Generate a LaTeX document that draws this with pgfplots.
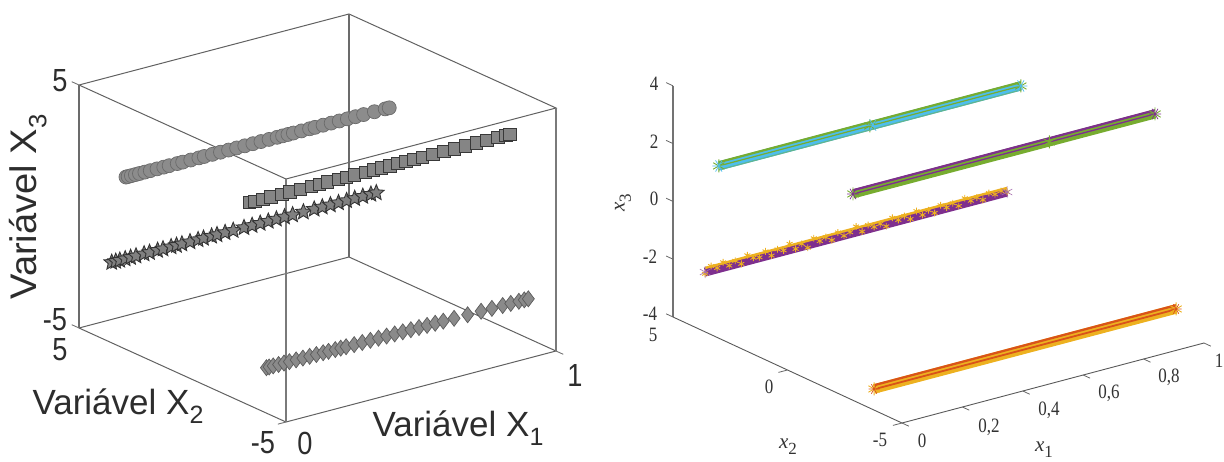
\documentclass[border=0pt]{standalone}
\usepackage{pgfplots}
\pgfplotsset{compat=1.18}
\usepackage{fontspec}
\setmainfont{Liberation Sans}
\newfontfamily\tms{Liberation Serif}
\usetikzlibrary{plotmarks}
\definecolor{cy}{RGB}{77,190,238}
\definecolor{gr}{RGB}{119,172,48}
\definecolor{pu}{RGB}{126,47,142}
\definecolor{ye}{RGB}{237,177,32}
\definecolor{orr}{RGB}{217,83,25}
\definecolor{txtL}{RGB}{45,45,45}
\definecolor{txtR}{RGB}{50,50,50}
\pgfdeclareplotmark{fstar}{%
 \pgfpathmoveto{\pgfpointpolar{90}{\pgfplotmarksize}}%
 \pgfpathlineto{\pgfpointpolar{126}{0.45\pgfplotmarksize}}%
 \pgfpathlineto{\pgfpointpolar{162}{\pgfplotmarksize}}%
 \pgfpathlineto{\pgfpointpolar{198}{0.45\pgfplotmarksize}}%
 \pgfpathlineto{\pgfpointpolar{234}{\pgfplotmarksize}}%
 \pgfpathlineto{\pgfpointpolar{270}{0.45\pgfplotmarksize}}%
 \pgfpathlineto{\pgfpointpolar{306}{\pgfplotmarksize}}%
 \pgfpathlineto{\pgfpointpolar{342}{0.45\pgfplotmarksize}}%
 \pgfpathlineto{\pgfpointpolar{18}{\pgfplotmarksize}}%
 \pgfpathlineto{\pgfpointpolar{54}{0.45\pgfplotmarksize}}%
 \pgfpathclose\pgfusepathqfillstroke}
\newcommand\lab[4][]{\node[inner sep=0pt,#1] at ({#2pt},{(461-#3)*1pt}) {#4};}
\newcommand\tick[1]{\fontsize{32}{32}\selectfont\scalebox{0.85}[1]{#1}}
\newcommand\sub[1]{\raisebox{-0.27em}{\fontsize{25}{25}\selectfont #1}}
\newcommand\lft[1]{\fontsize{35}{35}\selectfont\scalebox{1.0}[1]{#1}}
\newcommand\rgt[1]{\tms\fontsize{17}{17}\selectfont\scalebox{1}[1.2]{#1}}
\newcommand\vlab[1]{\tms\fontsize{21}{21}\selectfont\textit{x}\raisebox{-0.3em}{\fontsize{17}{17}\selectfont #1}}
\begin{document}
\begin{tikzpicture}
\useasboundingbox (0,0) rectangle (1224pt,461pt);
% LEFT
\begin{axis}[at={(182.5pt,207.5pt)},anchor=origin,hide axis,clip=false,disabledatascaling,
 x={(270pt,71pt)},y={(-20.7pt,9.4pt)},z={(0pt,24.3pt)},
 xmin=0,xmax=1,ymin=-5,ymax=5,zmin=-5,zmax=5]
\addplot3[only marks,mark=*,mark size=7pt,mark options={fill=black!45,draw=black!58,line width=0.7pt}] coordinates {
(0.000,2.73,2.09)(0.008,2.73,2.09)(0.02,2.73,2.09)(0.035,2.73,2.09)(0.05,2.73,2.09)(0.07,2.73,2.09)(0.09,2.73,2.09)(0.115,2.73,2.09)(0.14,2.73,2.09)(0.16,2.73,2.09)(0.19,2.73,2.09)(0.21,2.73,2.09)(0.24,2.73,2.09)(0.27,2.73,2.09)(0.29,2.73,2.09)(0.32,2.73,2.09)(0.35,2.73,2.09)(0.38,2.73,2.09)(0.41,2.73,2.09)(0.44,2.73,2.09)(0.47,2.73,2.09)(0.50,2.73,2.09)(0.53,2.73,2.09)(0.56,2.73,2.09)(0.58,2.73,2.09)(0.60,2.73,2.09)(0.62,2.73,2.09)(0.65,2.73,2.09)(0.68,2.73,2.09)(0.70,2.73,2.09)(0.73,2.73,2.09)(0.76,2.73,2.09)(0.79,2.73,2.09)(0.82,2.73,2.09)(0.85,2.73,2.09)(0.88,2.73,2.09)(0.92,2.73,2.09)(0.96,2.73,2.09)(0.975,2.73,2.09)};
\addplot3[only marks,mark=square*,mark size=6.2pt,mark options={fill=black!48,draw=black!78,line width=0.9pt}] coordinates {
(0.02,-2.97,3.18)(0.04,-2.97,3.18)(0.07,-2.97,3.18)(0.10,-2.97,3.18)(0.14,-2.97,3.18)(0.17,-2.97,3.18)(0.21,-2.97,3.18)(0.25,-2.97,3.18)(0.28,-2.97,3.18)(0.31,-2.97,3.18)(0.35,-2.97,3.18)(0.38,-2.97,3.18)(0.41,-2.97,3.18)(0.45,-2.97,3.18)(0.48,-2.97,3.18)(0.51,-2.97,3.18)(0.54,-2.97,3.18)(0.57,-2.97,3.18)(0.60,-2.97,3.18)(0.63,-2.97,3.18)(0.66,-2.97,3.18)(0.70,-2.97,3.18)(0.74,-2.97,3.18)(0.78,-2.97,3.18)(0.82,-2.97,3.18)(0.86,-2.97,3.18)(0.90,-2.97,3.18)(0.94,-2.97,3.18)(0.97,-2.97,3.18)(0.985,-2.97,3.18)};
\addplot3[only marks,mark=fstar,mark size=8.2pt,mark options={fill=black!50,draw=black!80,line width=0.9pt}] coordinates {
(0.01,3.55,-1.77)(0.025,3.55,-1.77)(0.04,3.55,-1.77)(0.06,3.55,-1.77)(0.08,3.55,-1.77)(0.10,3.55,-1.77)(0.13,3.55,-1.77)(0.15,3.55,-1.77)(0.18,3.55,-1.77)(0.20,3.55,-1.77)(0.23,3.55,-1.77)(0.25,3.55,-1.77)(0.27,3.55,-1.77)(0.30,3.55,-1.77)(0.33,3.55,-1.77)(0.35,3.55,-1.77)(0.38,3.55,-1.77)(0.40,3.55,-1.77)(0.43,3.55,-1.77)(0.46,3.55,-1.77)(0.50,3.55,-1.77)(0.53,3.55,-1.77)(0.56,3.55,-1.77)(0.59,3.55,-1.77)(0.62,3.55,-1.77)(0.65,3.55,-1.77)(0.68,3.55,-1.77)(0.72,3.55,-1.77)(0.76,3.55,-1.77)(0.79,3.55,-1.77)(0.82,3.55,-1.77)(0.85,3.55,-1.77)(0.88,3.55,-1.77)(0.91,3.55,-1.77)(0.94,3.55,-1.77)(0.97,3.55,-1.77)(0.99,3.55,-1.77)};
\addplot3[only marks,mark=diamond*,mark size=8pt,mark options={fill=black!46,draw=black!64,line width=0.7pt}] coordinates {
(0.005,-3.99,-3.17)(0.015,-3.99,-3.17)(0.03,-3.99,-3.17)(0.05,-3.99,-3.17)(0.07,-3.99,-3.17)(0.09,-3.99,-3.17)(0.115,-3.99,-3.17)(0.14,-3.99,-3.17)(0.165,-3.99,-3.17)(0.19,-3.99,-3.17)(0.215,-3.99,-3.17)(0.235,-3.99,-3.17)(0.26,-3.99,-3.17)(0.28,-3.99,-3.17)(0.30,-3.99,-3.17)(0.33,-3.99,-3.17)(0.36,-3.99,-3.17)(0.39,-3.99,-3.17)(0.42,-3.99,-3.17)(0.45,-3.99,-3.17)(0.48,-3.99,-3.17)(0.51,-3.99,-3.17)(0.54,-3.99,-3.17)(0.57,-3.99,-3.17)(0.60,-3.99,-3.17)(0.63,-3.99,-3.17)(0.66,-3.99,-3.17)(0.70,-3.99,-3.17)(0.75,-3.99,-3.17)(0.80,-3.99,-3.17)(0.84,-3.99,-3.17)(0.88,-3.99,-3.17)(0.91,-3.99,-3.17)(0.94,-3.99,-3.17)(0.96,-3.99,-3.17)(0.975,-3.99,-3.17)};
% box
\addplot3[black!62,line width=1pt] coordinates {(0,5,5)(1,5,5)(1,-5,5)(0,-5,5)(0,5,5)};
\addplot3[black!62,line width=1pt] coordinates {(0,5,-5)(1,5,-5)(1,-5,-5)(0,-5,-5)(0,5,-5)};
\addplot3[black!58,line width=1.6pt] coordinates {(0,5,-5)(0,5,5)};
\addplot3[black!58,line width=1.6pt] coordinates {(1,5,-5)(1,5,5)};
\addplot3[black!52,line width=1.6pt] coordinates {(1,-5,-5)(1,-5,5)};
\addplot3[black!52,line width=1.6pt] coordinates {(0,-5,-5)(0,-5,5)};
\addplot3[black!55,line width=0.9pt] coordinates {(0,5,5)(0,5.35,5)};
\addplot3[black!55,line width=0.9pt] coordinates {(0,5,-5)(0,5.35,-5)};
\addplot3[black!55,line width=0.9pt] coordinates {(0,-5,-5)(-0.03,-5,-5)};
\addplot3[black!55,line width=0.9pt] coordinates {(1,-5,-5)(1,-5.35,-5)};
\end{axis}
\begin{scope}[txtL]
\lab{60}{81}{\tick{5}}
\lab{55}{320}{\tick{-5}}
\lab{60}{350}{\tick{5}}
\lab{263}{443}{\tick{-5}}
\lab{305}{443}{\tick{0}}
\lab{575}{375}{\tick{1}}
\lab{118}{406}{\lft{Variável X\sub{2}}}
\lab{458}{428}{\lft{Variável X\sub{1}}}
\lab[rotate=90]{28}{207}{\fontsize{37}{37}\selectfont\scalebox{1.03}[1]{Variável X\sub{3}}}
\end{scope}
% RIGHT
\begin{axis}[at={(787.5pt,206.6pt)},anchor=origin,hide axis,clip=false,disabledatascaling,
 x={(302pt,80pt)},y={(-22.9pt,10.6pt)},z={(0pt,28.9pt)},
 xmin=0,xmax=1,ymin=-5,ymax=5,zmin=-4,zmax=4]
% axes
\addplot3[black!55,line width=1.3pt] coordinates {(0,5,-4)(0,5,4)};
\addplot3[black!65,line width=0.9pt] coordinates {(0,5,-4)(0,-5,-4)(1,-5,-4)};
\addplot3[black!60,line width=0.8pt] coordinates {(0,5,4)(0,5.3,4)};
\addplot3[black!60,line width=0.8pt] coordinates {(0,5,2)(0,5.3,2)};
\addplot3[black!60,line width=0.8pt] coordinates {(0,5,0)(0,5.3,0)};
\addplot3[black!60,line width=0.8pt] coordinates {(0,5,-2)(0,5.3,-2)};
\addplot3[black!60,line width=0.8pt] coordinates {(0,5,-4)(0,5.3,-4)};
\addplot3[black!60,line width=0.8pt] coordinates {(0,0,-4)(-0.03,0,-4)};
\addplot3[black!60,line width=0.8pt] coordinates {(0,-5,-4)(-0.03,-5,-4)};
\addplot3[black!60,line width=0.8pt] coordinates {(0,-5,-4)(0,-5.3,-4)};
\addplot3[black!60,line width=0.8pt] coordinates {(0.2,-5,-4)(0.2,-5.3,-4)};
\addplot3[black!60,line width=0.8pt] coordinates {(0.4,-5,-4)(0.4,-5.3,-4)};
\addplot3[black!60,line width=0.8pt] coordinates {(0.6,-5,-4)(0.6,-5.3,-4)};
\addplot3[black!60,line width=0.8pt] coordinates {(0.8,-5,-4)(0.8,-5.3,-4)};
\addplot3[black!60,line width=0.8pt] coordinates {(1,-5,-4)(1,-5.3,-4)};
% cyan / green
\addplot3[cy,line width=9pt] coordinates {(0,3,1.96)(1,3,1.96)};
\addplot3[gr,line width=2.2pt] coordinates {(0,3,2.09)(1,3,2.09)};
\addplot3[gr,line width=1.2pt] coordinates {(0,3,1.96)(1,3,1.96)};
\addplot3[gr!50!cy,line width=1.2pt] coordinates {(0,3,1.82)(1,3,1.82)};
\addplot3[only marks,mark=asterisk,mark size=6.5pt,mark options={draw=gr,line width=0.9pt}] coordinates {(0,3,1.96)(0.5,3,1.96)(1,3,1.96)};
\addplot3[only marks,mark=asterisk,mark size=6.5pt,mark options={draw=cy,line width=0.7pt,rotate=30}] coordinates {(0,3,1.96)(0.51,3,1.96)(1,3,1.96)};
% purple / green
\addplot3[gr,line width=9pt] coordinates {(0,-2.86,3.14)(1,-2.86,3.14)};
\addplot3[pu,line width=2.2pt] coordinates {(0,-2.86,3.27)(1,-2.86,3.27)};
\addplot3[pu,line width=1.3pt] coordinates {(0,-2.86,3.14)(1,-2.86,3.14)};
\addplot3[only marks,mark=asterisk,mark size=6.5pt,mark options={draw=gr,line width=0.9pt}] coordinates {(0,-2.86,3.14)(0.65,-2.86,3.14)(1,-2.86,3.14)};
\addplot3[only marks,mark=asterisk,mark size=6pt,mark options={draw=pu,line width=0.7pt,rotate=30}] coordinates {(0,-2.86,3.14)(1,-2.86,3.14)};
% yellow / purple
\addplot3[pu,line width=9pt] coordinates {(0,3.6,-1.93)(1,3.6,-1.93)};
\addplot3[ye,line width=2.4pt] coordinates {(0,3.6,-1.79)(1,3.6,-1.79)};
\addplot3[only marks,mark=asterisk,mark size=3.4pt,mark options={draw=ye,line width=0.9pt}] coordinates {
(0.00,3.6,-1.99)(0.02,3.6,-1.78)(0.04,3.6,-1.90)(0.06,3.6,-1.76)(0.08,3.6,-1.93)(0.10,3.6,-1.82)(0.12,3.6,-1.98)(0.14,3.6,-1.74)(0.16,3.6,-1.88)(0.18,3.6,-1.92)(0.20,3.6,-1.77)(0.22,3.6,-1.97)(0.24,3.6,-1.81)(0.26,3.6,-1.90)(0.28,3.6,-1.73)(0.30,3.6,-1.96)(0.32,3.6,-1.84)(0.34,3.6,-2.03)(0.36,3.6,-1.76)(0.38,3.6,-1.91)(0.40,3.6,-1.83)(0.42,3.6,-1.99)(0.44,3.6,-1.78)(0.46,3.6,-1.95)(0.48,3.6,-1.88)(0.50,3.6,-1.74)(0.52,3.6,-1.97)(0.54,3.6,-1.80)(0.56,3.6,-1.92)(0.58,3.6,-1.87)(0.60,3.6,-2.01)(0.62,3.6,-1.77)(0.64,3.6,-1.90)(0.66,3.6,-1.82)(0.68,3.6,-1.98)(0.70,3.6,-1.76)(0.72,3.6,-1.95)(0.74,3.6,-1.84)(0.76,3.6,-1.99)(0.78,3.6,-1.78)(0.80,3.6,-1.91)(0.82,3.6,-1.82)(0.84,3.6,-1.97)(0.86,3.6,-1.76)(0.88,3.6,-1.90)(0.90,3.6,-1.84)(0.92,3.6,-1.98)(0.94,3.6,-1.80)(0.96,3.6,-1.90)(0.98,3.6,-1.84)(1.00,3.6,-1.93)};
\addplot3[pu,line width=1.3pt] coordinates {(0,3.6,-2.02)(1,3.6,-2.02)};
\addplot3[only marks,mark=asterisk,mark size=6pt,mark options={draw=pu!70!white,line width=0.6pt}] coordinates {(0,3.6,-1.93)(1,3.6,-1.93)};
% orange / yellow
\addplot3[ye,line width=9.5pt] coordinates {(0,-3.78,-3.27)(1,-3.78,-3.27)};
\addplot3[orr,line width=2.2pt] coordinates {(0,-3.78,-3.14)(1,-3.78,-3.14)};
\addplot3[orr,line width=1.8pt] coordinates {(0,-3.78,-3.28)(1,-3.78,-3.28)};
\addplot3[only marks,mark=asterisk,mark size=6.5pt,mark options={draw=ye,line width=0.9pt}] coordinates {(0,-3.78,-3.27)(1,-3.78,-3.27)};
\addplot3[only marks,mark=asterisk,mark size=5.5pt,mark options={draw=orr,line width=0.7pt,rotate=30}] coordinates {(0,-3.78,-3.27)(1,-3.78,-3.27)};
\end{axis}
\begin{scope}[txtR]
\lab{654}{84}{\rgt{4}}
\lab{654}{142}{\rgt{2}}
\lab{654}{199}{\rgt{0}}
\lab{650}{257}{\rgt{-2}}
\lab{650}{314}{\rgt{-4}}
\lab{653}{335}{\rgt{5}}
\lab{769}{387}{\rgt{0}}
\lab{880}{440}{\rgt{-5}}
\lab{922}{441}{\rgt{0}}
\lab{989}{427}{\rgt{0,2}}
\lab{1049}{410}{\rgt{0,4}}
\lab{1109}{393}{\rgt{0,6}}
\lab{1169}{377}{\rgt{0,8}}
\lab{1219}{361}{\rgt{1}}
\lab[rotate=90]{623}{203}{\vlab{3}}
\lab{788}{447}{\vlab{2}}
\lab{1044}{450}{\vlab{1}}
\end{scope}
\end{tikzpicture}
\end{document}
